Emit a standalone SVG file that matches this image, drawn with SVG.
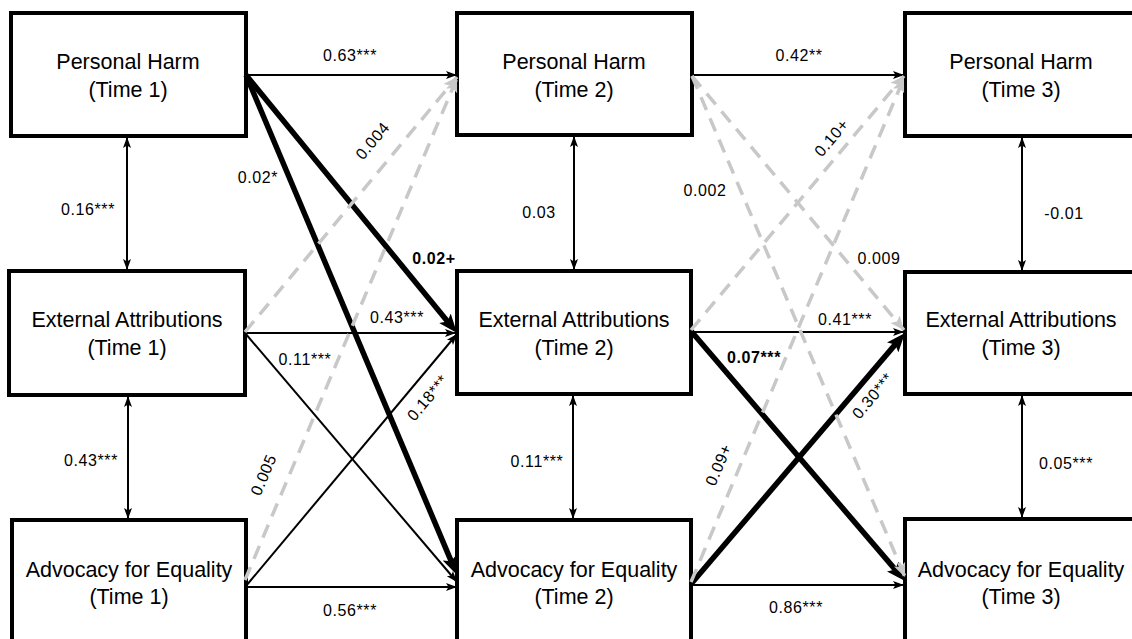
<svg xmlns="http://www.w3.org/2000/svg" width="1132" height="639" viewBox="0 0 1132 639">
<defs>
<style>
.box{fill:#fff;stroke:#000;stroke-width:4}
.nt{font-family:"Liberation Sans",Arial,sans-serif;font-size:21.5px;fill:#000;text-anchor:middle}
.lb{font-family:"Liberation Sans",Arial,sans-serif;font-size:16px;fill:#000;text-anchor:middle;letter-spacing:0.6px}
.bold{font-weight:bold}
.thin{stroke:#000;stroke-width:2;fill:none;marker-end:url(#ah)}
.dbl{stroke:#000;stroke-width:2;fill:none;marker-end:url(#ah);marker-start:url(#ah)}
.thick{stroke:#000;stroke-width:5.5;fill:none;marker-end:url(#ahk)}
.grey{stroke:#c8c8c8;stroke-width:3.5;fill:none;stroke-dasharray:14 9;marker-end:url(#ahg)}
</style>
<marker id="ah" markerUnits="userSpaceOnUse" markerWidth="12" markerHeight="10" viewBox="0 0 12 10" refX="11" refY="5" orient="auto-start-reverse">
<path d="M0,1 L11,5 L0,9 L2.5,5 z" fill="#000"/>
</marker>
<marker id="ahk" markerUnits="userSpaceOnUse" markerWidth="20" markerHeight="16" viewBox="0 0 20 16" refX="11" refY="8" orient="auto">
<path d="M0,0.5 L19,8 L0,15.5 L4,8 z" fill="#000"/>
</marker>
<marker id="ahg" markerUnits="userSpaceOnUse" markerWidth="15" markerHeight="14" viewBox="0 0 15 14" refX="14" refY="7" orient="auto">
<path d="M0,1 L14,7 L0,13 L3,7 z" fill="#c8c8c8"/>
</marker>
</defs>
<rect width="1132" height="639" fill="#fff"/>

<g id="ph1"><rect class="box" x="11" y="13" width="235" height="123"/><text class="nt" x="128" y="69">Personal Harm</text><text class="nt" x="128" y="97">(Time 1)</text></g>
<g id="ph2"><rect class="box" x="457" y="13" width="235" height="122"/><text class="nt" x="574" y="69">Personal Harm</text><text class="nt" x="574" y="97">(Time 2)</text></g>
<g id="ph3"><rect class="box" x="905" y="13" width="240" height="123"/><text class="nt" x="1021" y="69">Personal Harm</text><text class="nt" x="1021" y="97">(Time 3)</text></g>

<g id="ea1"><rect class="box" x="9" y="271" width="236" height="124"/><text class="nt" x="127" y="327">External Attributions</text><text class="nt" x="127" y="355">(Time 1)</text></g>
<g id="ea2"><rect class="box" x="457" y="271" width="234" height="123"/><text class="nt" x="574" y="327">External Attributions</text><text class="nt" x="574" y="355">(Time 2)</text></g>
<g id="ea3"><rect class="box" x="905" y="272" width="240" height="122"/><text class="nt" x="1021" y="327">External Attributions</text><text class="nt" x="1021" y="355">(Time 3)</text></g>

<g id="ae1"><rect class="box" x="12" y="520" width="234" height="140"/><text class="nt" x="129" y="577">Advocacy for Equality</text><text class="nt" x="129" y="604">(Time 1)</text></g>
<g id="ae2"><rect class="box" x="457" y="520" width="234" height="140"/><text class="nt" x="574" y="577">Advocacy for Equality</text><text class="nt" x="574" y="604">(Time 2)</text></g>
<g id="ae3"><rect class="box" x="905" y="519" width="240" height="140"/><text class="nt" x="1021" y="577">Advocacy for Equality</text><text class="nt" x="1021" y="604">(Time 3)</text></g>

<g id="connectors">
<line class="thin" x1="246" y1="75" x2="457" y2="75"/>
<line class="thin" x1="692" y1="75" x2="904" y2="75"/>
<line class="thin" x1="245" y1="333" x2="456" y2="333"/>
<line class="thin" x1="691" y1="332" x2="904" y2="332"/>
<line class="thin" x1="246" y1="587" x2="457" y2="587"/>
<line class="thin" x1="691" y1="585" x2="904" y2="585"/>
<line class="dbl" x1="127" y1="137" x2="127" y2="270"/>
<line class="dbl" x1="128" y1="396" x2="128" y2="519"/>
<line class="dbl" x1="574" y1="136" x2="574" y2="270"/>
<line class="dbl" x1="573" y1="395" x2="573" y2="519"/>
<line class="dbl" x1="1022" y1="137" x2="1022" y2="271"/>
<line class="dbl" x1="1022" y1="395" x2="1022" y2="518"/>
<line class="thin" x1="245" y1="333" x2="457" y2="582"/>
<line class="thin" x1="246" y1="586" x2="457" y2="334"/>
<line class="thick" x1="246" y1="75" x2="451.9" y2="326.8"/>
<line class="thick" x1="246" y1="75" x2="453.9" y2="567.6"/>
<line class="thick" x1="691" y1="331" x2="899.8" y2="574.9"/>
<line class="thick" x1="691" y1="584" x2="899.8" y2="339.1"/>
<line class="grey" x1="245" y1="332" x2="457" y2="77"/>
<line class="grey" x1="245" y1="580" x2="457" y2="78"/>
<line class="grey" x1="692" y1="76" x2="904" y2="330"/>
<line class="grey" x1="692" y1="76" x2="905" y2="577"/>
<line class="grey" x1="691" y1="330" x2="904" y2="76"/>
<line class="grey" x1="691" y1="582" x2="904" y2="78"/>
</g>

<g id="labels">
<text class="lb" x="350" y="61">0.63***</text>
<text class="lb" x="799" y="61">0.42**</text>
<text class="lb" x="88" y="215">0.16***</text>
<text class="lb" x="258" y="183">0.02*</text>
<text class="lb bold" x="434" y="264">0.02+</text>
<text class="lb" x="539" y="218">0.03</text>
<text class="lb" x="705" y="196">0.002</text>
<text class="lb" x="879" y="264">0.009</text>
<text class="lb" x="1064" y="219">-0.01</text>
<text class="lb" x="397" y="323">0.43***</text>
<text class="lb" x="305" y="365">0.11***</text>
<text class="lb" x="91" y="466">0.43***</text>
<text class="lb" x="350" y="616">0.56***</text>
<text class="lb" x="845" y="325">0.41***</text>
<text class="lb bold" x="754" y="363">0.07***</text>
<text class="lb" x="537" y="467">0.11***</text>
<text class="lb" x="796" y="613">0.86***</text>
<text class="lb" x="1066" y="469">0.05***</text>
<text class="lb" transform="translate(373,141) rotate(-50)" y="5">0.004</text>
<text class="lb" transform="translate(264,475) rotate(-67)" y="5">0.005</text>
<text class="lb" transform="translate(428,398) rotate(-50)" y="5">0.18***</text>
<text class="lb" transform="translate(832,138) rotate(-50)" y="5">0.10+</text>
<text class="lb" transform="translate(719,465) rotate(-67)" y="5">0.09+</text>
<text class="lb" transform="translate(873,396) rotate(-50)" y="5">0.30***</text>
</g>
</svg>
